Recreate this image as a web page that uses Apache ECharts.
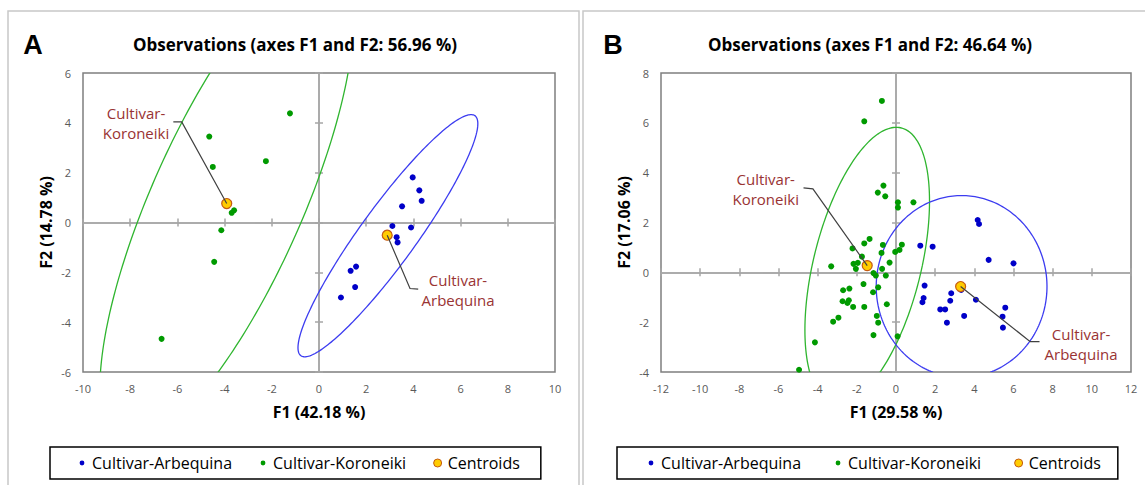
<!DOCTYPE html>
<html><head><meta charset="utf-8">
<script src="https://cdn.jsdelivr.net/npm/echarts@6/dist/echarts.min.js"></script>
<style>html,body{margin:0;padding:0;background:#fff}#c{width:1145px;height:485px}</style>
</head><body><div id="c"></div>
<script>
// ---------------- DATA ----------------
const seriesNames = ['Cultivar-Arbequina', 'Cultivar-Koroneiki', 'Centroids'];
const panelTitles = ['Observations (axes F1 and F2: 56.96 %)', 'Observations (axes F1 and F2: 46.64 %)'];
const panelLetters = ['A', 'B'];
const xAxisNames = ['F1 (42.18 %)', 'F1 (29.58 %)'];
const yAxisNames = ['F2 (14.78 %)', 'F2 (17.06 %)'];
const aXRange = [-10, 10];
const aYRange = [-6, 6];
const bXRange = [-12, 12];
const bYRange = [-4, 8];
const tickStep = 2;

const aArbequina = [[3.97,1.81],[4.25,1.29],[4.35,0.87],[3.52,0.65],[3.11,-0.14],[3.90,-0.20],[3.29,-0.59],[3.33,-0.80],[1.57,-1.77],[1.34,-1.94],[1.53,-2.59],[0.93,-3.01]];
const aKoroneiki = [[-1.23,4.38],[-4.65,3.45],[-2.25,2.46],[-4.50,2.23],[-3.60,0.49],[-3.70,0.39],[-4.14,-0.31],[-4.44,-1.58],[-6.67,-4.67]];
const aCentroids = [[2.89,-0.51],[-3.91,0.76]];

const bArbequina = [[4.17,2.10],[4.24,1.94],[1.24,1.07],[1.87,1.03],[4.73,0.50],[6.00,0.36],[1.46,-0.53],[2.82,-0.84],[3.33,-0.71],[1.41,-1.03],[2.77,-1.14],[1.35,-1.20],[4.08,-1.10],[2.26,-1.49],[2.51,-1.49],[5.58,-1.42],[3.48,-1.75],[5.44,-1.78],[2.60,-2.02],[5.46,-2.22]];
const bKoroneiki = [[-0.72,6.88],[-1.62,6.06],[-0.64,3.48],[-0.93,3.20],[-0.55,3.05],[0.10,2.81],[0.10,2.60],[0.89,2.81],[-1.35,1.34],[-1.62,1.16],[-0.67,1.10],[0.30,1.11],[0.18,0.90],[-0.04,0.82],[-2.22,0.96],[-1.74,0.63],[-0.74,0.78],[-3.31,0.24],[-2.17,0.34],[-1.95,0.38],[-2.05,0.14],[-0.71,0.14],[-0.33,0.39],[-1.15,-0.03],[-1.03,-0.13],[-0.52,-0.13],[-1.66,-0.47],[-0.91,-0.60],[-2.70,-0.72],[-2.38,-0.65],[-1.17,-0.80],[-2.73,-1.16],[-2.41,-1.12],[-2.48,-1.23],[-2.19,-1.39],[-1.62,-1.39],[-0.47,-1.28],[-0.98,-1.75],[-0.91,-2.02],[-2.94,-1.82],[-3.21,-1.98],[-1.15,-2.52],[0.08,-2.57],[-4.14,-2.81],[-4.95,-3.91]];
const bCentroids = [[3.30,-0.57],[-1.47,0.27]];

// confidence ellipses: [centreX, centreY, half-width at centre, half-height, shear (dx per dy)]
const aEllipseArbequina = [2.92,-0.53,1.45,4.86,0.725];
const aEllipseKoroneiki = [-3.91,0.76,3.48,9.69,0.4225];
const bEllipseArbequina = [3.35,-0.57,4.36,3.65,0];
const bEllipseKoroneiki = [-1.47,0.27,2.815,5.55,0.267];

const centroidLabels = ['Cultivar-\nArbequina', 'Cultivar-\nKoroneiki'];

// ---------------- STYLE ----------------
const FONT = '"Open Sans", "Noto Sans", sans-serif';
const C_BLUE = '#0000c8', C_GREEN = '#009a00';
const C_BLUE_EL = '#3c3cf0', C_GREEN_EL = '#2fb52f';
const C_CENT = '#ffcc00', C_CENT_B = '#c55a11';
const C_LABEL = '#993333';
// leader-line offsets in px relative to centroid: [elbow, end, textCentre]
const leaderA = [
  {elbow:[22.8,53.3], end:[31,54], text:[70.8,54.7]},
  {elbow:[-45,-81.6], end:[-53.4,-81.6], text:[-90.7,-80.4]}
];
const leaderB = [
  {elbow:[69.6,55.1], end:[78.9,55.1], text:[120.4,57.1]},
  {elbow:[-54.3,-76.7], end:[-63.7,-77.7], text:[-101.5,-76.7]}
];

const grids = [
  {left:83, top:73, width:472, height:299},
  {left:661, top:73, width:470, height:299}
];

function axesFor(g, xr, yr, xname, yname) {
  const zeroLine = {onZero:true, lineStyle:{color:'#a6a6a6', width:1.5}};
  const tick = {show:true, inside:true, length:4, lineStyle:{color:'#a6a6a6', width:1.5}};
  const base = {gridIndex:g, type:'value', interval:tickStep, splitLine:{show:false}};
  const xs = [
    Object.assign({}, base, {min:xr[0], max:xr[1], position:'bottom',
      axisLine:{show:false, onZero:false}, axisTick:{show:false},
      axisLabel:{margin:11, color:'#595959', fontSize:11, fontFamily:FONT},
      name:xname, nameLocation:'middle', nameGap:32,
      nameTextStyle:{fontFamily:FONT, fontWeight:'bold', fontSize:16, color:'#000'}}),
    Object.assign({}, base, {min:xr[0], max:xr[1], position:'bottom', axisLine:zeroLine, axisTick:tick, axisLabel:{show:false}}),
    Object.assign({}, base, {min:xr[0], max:xr[1], position:'top', axisLine:zeroLine, axisTick:tick, axisLabel:{show:false}})
  ];
  const ys = [
    Object.assign({}, base, {min:yr[0], max:yr[1], position:'left',
      axisLine:{show:false, onZero:false}, axisTick:{show:false},
      axisLabel:{margin:12, color:'#595959', fontSize:11, fontFamily:FONT},
      name:yname, nameLocation:'middle', nameGap:29,
      nameTextStyle:{fontFamily:FONT, fontWeight:'bold', fontSize:16, color:'#000'}}),
    Object.assign({}, base, {min:yr[0], max:yr[1], position:'left', axisLine:zeroLine, axisTick:tick, axisLabel:{show:false}}),
    Object.assign({}, base, {min:yr[0], max:yr[1], position:'right', axisLine:zeroLine, axisTick:tick, axisLabel:{show:false}})
  ];
  return {xs, ys};
}
const axA = axesFor(0, aXRange, aYRange, xAxisNames[0], yAxisNames[0]);
const axB = axesFor(1, bXRange, bYRange, xAxisNames[1], yAxisNames[1]);

function ellipseSeries(axisIdx, params, color) {
  return {
    type:'custom', xAxisIndex:axisIdx, yAxisIndex:axisIdx, clip:true, silent:true, z:1,
    encode:{x:0, y:1}, data:[params],
    renderItem: function (p, api) {
      const cx = api.value(0), cy = api.value(1), h = api.value(2), v = api.value(3), k = api.value(4);
      const pts = [];
      for (let i = 0; i <= 240; i++) {
        const t = i / 240 * Math.PI * 2;
        const dy = v * Math.sin(t);
        pts.push(api.coord([cx + h * Math.cos(t) + k * dy, cy + dy]));
      }
      return {type:'polyline', shape:{points:pts}, style:{stroke:color, fill:null, lineWidth:1.3}};
    }
  };
}
function scatter(axisIdx, name, data, color, size) {
  return {type:'scatter', name, xAxisIndex:axisIdx, yAxisIndex:axisIdx, data, symbolSize:size,
    itemStyle:{color, opacity:1}, z:3, silent:true};
}
function centroidSeries(axisIdx, data) {
  return {type:'scatter', name:seriesNames[2], xAxisIndex:axisIdx, yAxisIndex:axisIdx, data, symbolSize:10,
    itemStyle:{color:C_CENT, borderColor:C_CENT_B, borderWidth:1.2, opacity:1}, z:4, silent:true};
}
function leaderSeries(axisIdx, data, offs) {
  return {
    type:'custom', xAxisIndex:axisIdx, yAxisIndex:axisIdx, clip:false, silent:true, z:5,
    encode:{x:0, y:1}, data,
    renderItem: function (p, api) {
      const c = api.coord([api.value(0), api.value(1)]);
      const o = offs[p.dataIndex];
      return {type:'group', children:[
        {type:'polyline', shape:{points:[c, [c[0]+o.elbow[0], c[1]+o.elbow[1]], [c[0]+o.end[0], c[1]+o.end[1]]]},
          style:{stroke:'#404040', fill:null, lineWidth:1.2}},
        {type:'text', x:c[0]+o.text[0], y:c[1]+o.text[1],
          style:{text:centroidLabels[p.dataIndex], fill:C_LABEL, font:'15px ' + FONT,
            align:'center', verticalAlign:'middle', textAlign:'center', textVerticalAlign:'middle', lineHeight:20}}
      ]};
    }
  };
}

const dotIcon = 'path://M0,0M10,10M5,2.6A2.4,2.4,0,1,1,5,7.4A2.4,2.4,0,1,1,5,2.6Z';
const centIcon = 'path://M0,0M10,10M5,1A4,4,0,1,1,5,9A4,4,0,1,1,5,1Z';
function legendFor(left, padding, gap) {
  return {
    left, top:447, orient:'horizontal', padding, itemGap:gap, itemWidth:10, itemHeight:10,
    borderColor:'#000', borderWidth:1.5, selectedMode:false,
    textStyle:{fontFamily:FONT, fontSize:16, color:'#000'},
    data:[
      {name:seriesNames[0], icon:dotIcon, itemStyle:{color:C_BLUE, borderWidth:0}},
      {name:seriesNames[1], icon:dotIcon, itemStyle:{color:C_GREEN, borderWidth:0}},
      {name:seriesNames[2], icon:centIcon, itemStyle:{color:C_CENT, borderColor:C_CENT_B, borderWidth:1}}
    ]
  };
}

const option = {
  animation:false,
  backgroundColor:'#fff',
  grid: grids.map(g => Object.assign({show:true, borderColor:'#7f7f7f', borderWidth:1.5, backgroundColor:'transparent', containLabel:false}, g)),
  xAxis: axA.xs.concat(axB.xs),
  yAxis: axA.ys.concat(axB.ys),
  legend: [legendFor(50, [8,21,8,27], 26), legendFor(617, [8,17,8,29], 32)],
  graphic: [
    {type:'rect', z:-10, shape:{x:8, y:11, width:571, height:500}, style:{fill:null, stroke:'#c8c8c8', lineWidth:1.5}},
    {type:'rect', z:-10, shape:{x:583, y:11, width:580, height:500}, style:{fill:null, stroke:'#c8c8c8', lineWidth:1.5}},
    {type:'text', x:33, y:45, style:{text:panelLetters[0], font:'bold 27px "Liberation Sans", sans-serif', fill:'#000', align:'center', verticalAlign:'middle', textAlign:'center', textVerticalAlign:'middle'}},
    {type:'text', x:613, y:45, style:{text:panelLetters[1], font:'bold 27px "Liberation Sans", sans-serif', fill:'#000', align:'center', verticalAlign:'middle', textAlign:'center', textVerticalAlign:'middle'}},
    {type:'text', x:295, y:44, style:{text:panelTitles[0], font:'bold 17px ' + FONT, fill:'#000', align:'center', verticalAlign:'middle', textAlign:'center', textVerticalAlign:'middle'}},
    {type:'text', x:870, y:44, style:{text:panelTitles[1], font:'bold 17px ' + FONT, fill:'#000', align:'center', verticalAlign:'middle', textAlign:'center', textVerticalAlign:'middle'}}
  ],
  series: [
    ellipseSeries(0, aEllipseKoroneiki, C_GREEN_EL),
    ellipseSeries(0, aEllipseArbequina, C_BLUE_EL),
    scatter(0, seriesNames[0], aArbequina, C_BLUE, 6),
    scatter(0, seriesNames[1], aKoroneiki, C_GREEN, 6),
    centroidSeries(0, aCentroids),
    leaderSeries(0, aCentroids, leaderA),
    ellipseSeries(3, bEllipseKoroneiki, C_GREEN_EL),
    ellipseSeries(3, bEllipseArbequina, C_BLUE_EL),
    scatter(3, seriesNames[0], bArbequina, C_BLUE, 6),
    scatter(3, seriesNames[1], bKoroneiki, C_GREEN, 6),
    centroidSeries(3, bCentroids),
    leaderSeries(3, bCentroids, leaderB)
  ]
};
const chart = echarts.init(document.getElementById('c'), null, {renderer:'svg'});
chart.setOption(option);
</script></body></html>
